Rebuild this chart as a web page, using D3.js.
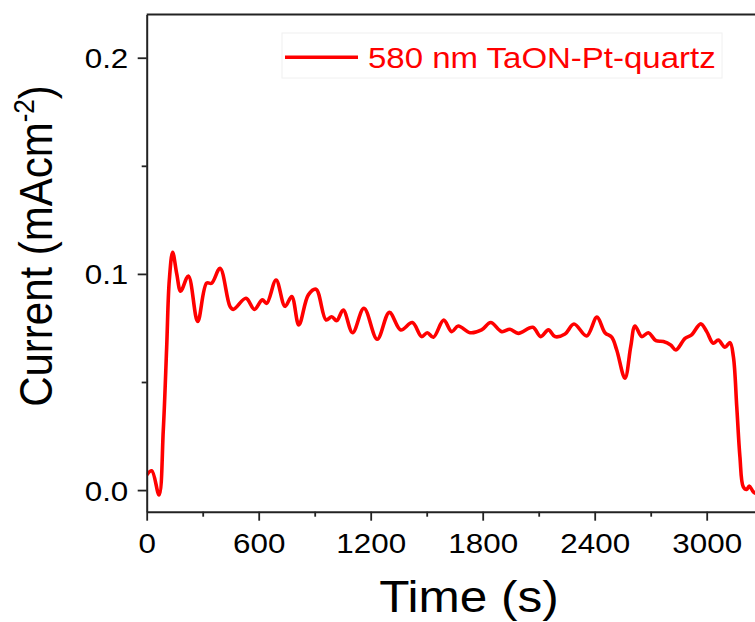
<!DOCTYPE html>
<html>
<head>
<meta charset="utf-8">
<script src="https://cdn.jsdelivr.net/npm/d3@7"></script>
<style>
  html, body { margin: 0; padding: 0; background: #fff; }
  svg { display: block; }
  text { font-family: Arial, "Liberation Sans", sans-serif; }
</style>
</head>
<body>
<svg id="chart" width="755" height="622"></svg>
<script>
// ---- data ----
const seriesName = "580 nm TaON-Pt-quartz";
const timeS = [0, 27, 66, 89, 107, 121, 139, 161, 182, 223, 273, 321, 348, 393, 446, 464, 532, 577, 619, 643, 693, 741, 777, 815, 866, 907, 961, 991, 1018, 1053, 1103, 1164, 1235, 1300, 1361, 1423, 1473, 1503, 1536, 1591, 1634, 1669, 1732, 1794, 1843, 1902, 1946, 1991, 2068, 2111, 2152, 2187, 2241, 2289, 2357, 2412, 2455, 2491, 2518, 2562, 2593, 2616, 2652, 2687, 2728, 2768, 2807, 2835, 2884, 2919, 2968, 3000, 3035, 3062, 3098, 3125, 3143, 3161, 3178, 3196, 3214, 3228, 3250, 3275];
const current = [0.007, 0.0089, -0.0023, 0.028, 0.066, 0.097, 0.110, 0.100, 0.092, 0.099, 0.078, 0.0957, 0.0957, 0.1026, 0.085, 0.0836, 0.0887, 0.0836, 0.088, 0.0864, 0.0972, 0.085, 0.0895, 0.0764, 0.0903, 0.0929, 0.0787, 0.0802, 0.0784, 0.0833, 0.0728, 0.0841, 0.0698, 0.0822, 0.0741, 0.0775, 0.071, 0.0728, 0.0707, 0.0786, 0.0733, 0.0759, 0.0728, 0.0741, 0.0775, 0.0733, 0.0744, 0.0725, 0.0753, 0.071, 0.0741, 0.071, 0.0722, 0.0768, 0.0713, 0.080, 0.0728, 0.0707, 0.0648, 0.0517, 0.0664, 0.0759, 0.071, 0.0728, 0.0691, 0.0687, 0.0671, 0.0648, 0.0702, 0.0718, 0.0769, 0.0733, 0.0679, 0.0694, 0.0661, 0.0682, 0.0617, 0.0386, 0.0154, 0.0015, 0.0003, 0.0019, -0.0008, -0.002];
const xMajorTicks = [0, 600, 1200, 1800, 2400, 3000];
const xMinorTicks = [300, 900, 1500, 2100, 2700, 3300];
const yMajorTicks = [0.0, 0.1, 0.2];
const yMinorTicks = [0.05, 0.15];
const xDomain = [0, 3300];
const yDomain = [-0.01, 0.22];
const xTitle = "Time (s)";

// ---- layout ----
const svg = d3.select("#chart");
const mLeft = 146.7, mRight = 762.7, mTop = 14.5, mBottom = 511.7;
const stretch = 1.1; // reference glyphs are slightly wide
const x = d3.scaleLinear().domain(xDomain).range([mLeft, mRight]);
const y = d3.scaleLinear().domain(yDomain).range([mBottom, mTop]);
const axisColor = "#222";

svg.append("defs").append("clipPath").attr("id", "clip")
  .append("rect").attr("x", mLeft).attr("y", mTop).attr("width", mRight - mLeft).attr("height", mBottom - mTop);

// data line
const pts = timeS.map((t, i) => [t, current[i]]);
svg.append("path")
  .datum(pts)
  .attr("clip-path", "url(#clip)")
  .attr("fill", "none")
  .attr("stroke", "#ff0000")
  .attr("stroke-width", 3.6)
  .attr("stroke-linejoin", "round")
  .attr("d", d3.line().x(d => x(d[0])).y(d => y(d[1])).curve(d3.curveCatmullRom.alpha(0.5)));

// frame (top + right)
svg.append("line").attr("x1", mLeft).attr("x2", mRight).attr("y1", mTop).attr("y2", mTop)
  .attr("stroke", axisColor).attr("stroke-width", 2);
svg.append("line").attr("x1", mRight).attr("x2", mRight).attr("y1", mTop).attr("y2", mBottom)
  .attr("stroke", axisColor).attr("stroke-width", 2);

// x axis
const xAxis = svg.append("g").attr("transform", `translate(0,${mBottom})`)
  .call(d3.axisBottom(x).tickValues(xMajorTicks).tickFormat(d3.format("d")).tickSize(9).tickSizeOuter(0).tickPadding(12));
const xMinor = svg.append("g").attr("transform", `translate(0,${mBottom})`)
  .call(d3.axisBottom(x).tickValues(xMinorTicks).tickFormat("").tickSize(5).tickSizeOuter(0));
xMinor.select(".domain").remove();

// y axis
const yAxis = svg.append("g").attr("transform", `translate(${mLeft},0)`)
  .call(d3.axisLeft(y).tickValues(yMajorTicks).tickFormat(d3.format(".1f")).tickSize(9).tickSizeOuter(0).tickPadding(8));
const yMinor = svg.append("g").attr("transform", `translate(${mLeft},0)`)
  .call(d3.axisLeft(y).tickValues(yMinorTicks).tickFormat("").tickSize(5).tickSizeOuter(0));
yMinor.select(".domain").remove();

svg.selectAll(".domain").attr("stroke", axisColor).attr("stroke-width", 2);
svg.selectAll(".tick line").attr("stroke", axisColor).attr("stroke-width", 1.8);
svg.selectAll(".tick text").attr("fill", "#000").style("font-size", "28.5px").style("font-family", "Arial, 'Liberation Sans', sans-serif");
xAxis.selectAll(".tick text").attr("dy", "0.71em").attr("transform", `scale(${stretch},1)`);
yAxis.selectAll(".tick text").attr("dy", "0.35em").attr("x", -18.4 / stretch).attr("transform", `scale(${stretch},1)`);

// axis titles
svg.append("text")
  .attr("transform", `translate(469,612) scale(${stretch},1)`)
  .attr("text-anchor", "middle")
  .style("font-size", "45px")
  .attr("fill", "#000")
  .text(xTitle);

const yt = svg.append("text")
  .attr("transform", `translate(52,246) scale(${stretch},1) rotate(-90)`)
  .attr("text-anchor", "middle")
  .style("font-size", "42px")
  .attr("fill", "#000");
yt.append("tspan").text("Current (mAcm");
yt.append("tspan").attr("dy", -16).style("font-size", "26px").text("-2");
yt.append("tspan").attr("dy", 16).text(")");

// legend
const lg = svg.append("g");
lg.append("rect").attr("x", 282).attr("y", 33).attr("width", 440).attr("height", 45)
  .attr("fill", "#fff").attr("stroke", "#f0f0f0").attr("stroke-width", 1);
lg.append("line").attr("x1", 285).attr("x2", 358).attr("y1", 57.3).attr("y2", 57.3)
  .attr("stroke", "#ff0000").attr("stroke-width", 3.6);
lg.append("text").attr("transform", `translate(368,68.3) scale(${stretch},1)`)
  .style("font-size", "30px").attr("fill", "#ff0000").text(seriesName);
</script>
</body>
</html>
